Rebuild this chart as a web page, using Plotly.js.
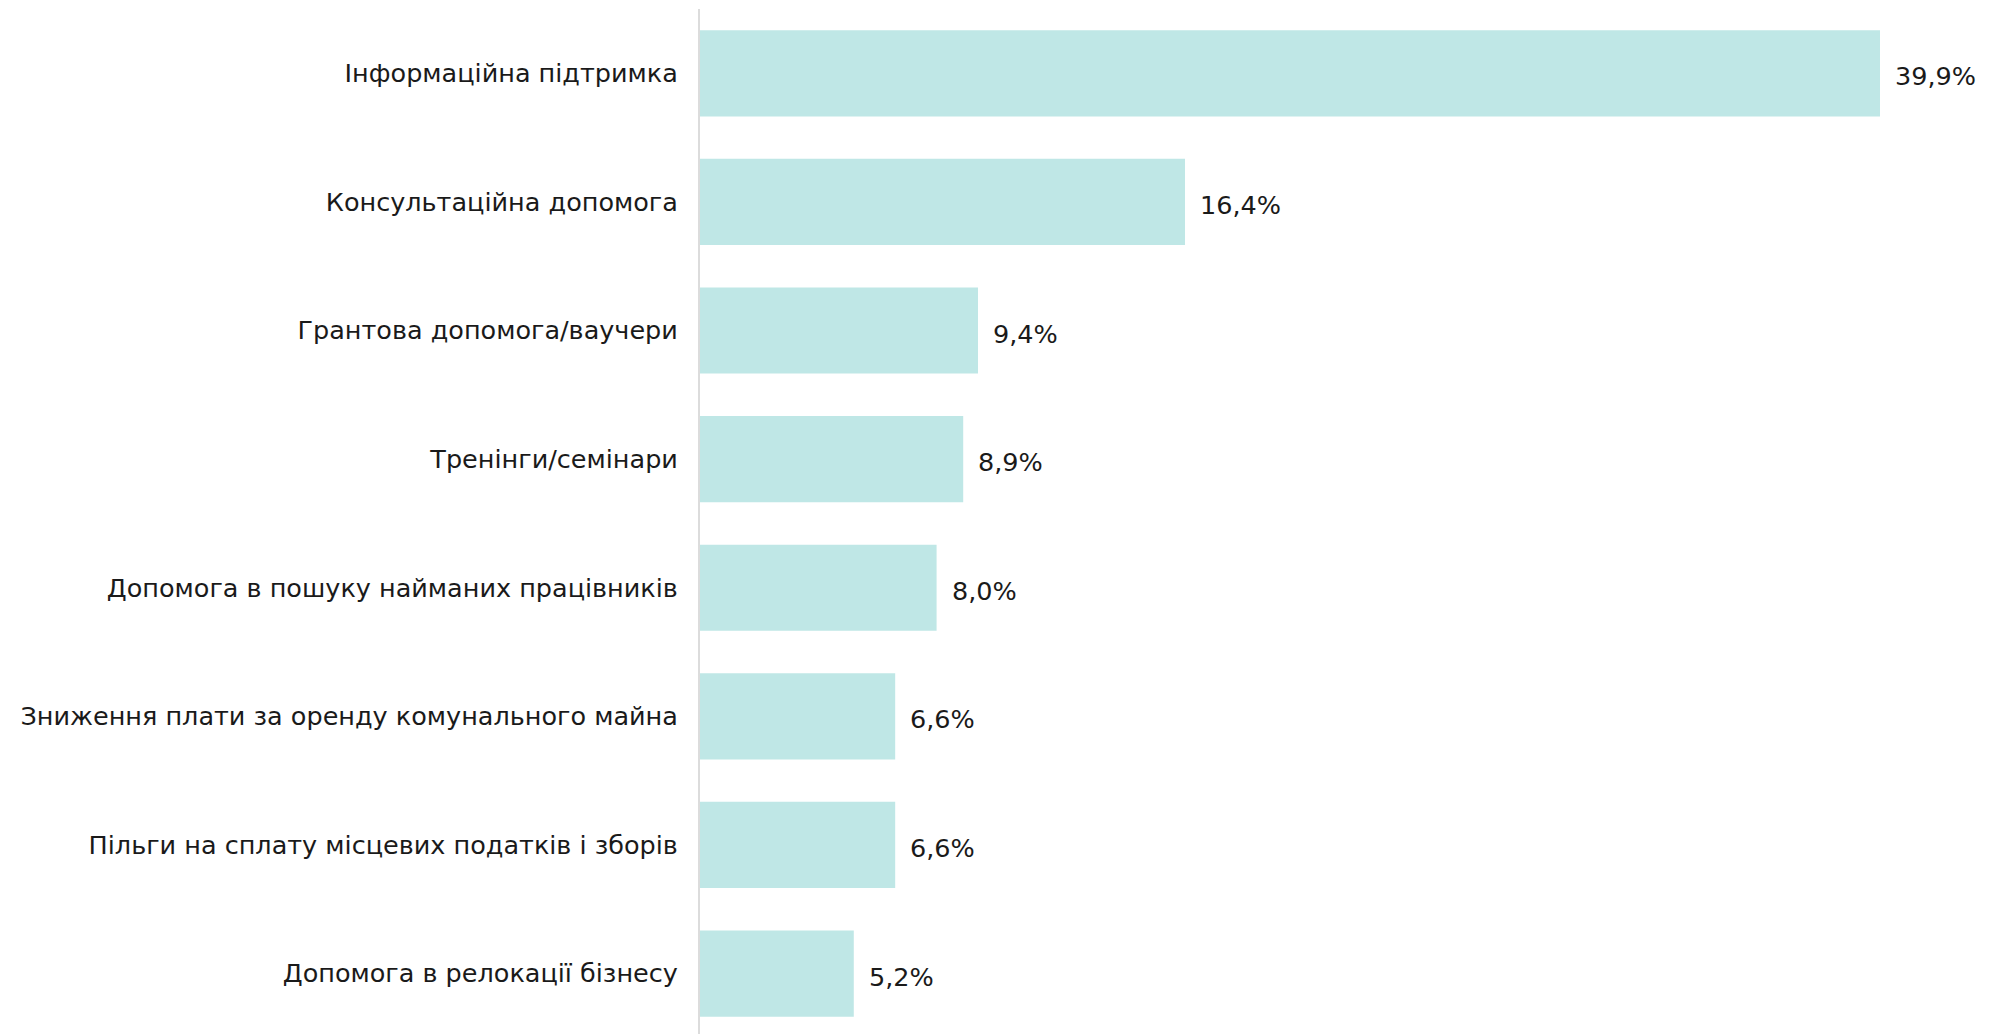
<!DOCTYPE html>
<html><head><meta charset="utf-8">
<script src="https://cdn.plot.ly/plotly-3.0.1.min.js"></script>
<style>html,body{margin:0;padding:0;background:#fff}#chart{width:1990px;height:1034px}</style>
</head><body><div id="chart"></div>
<script>
const categories = [
  "Інформаційна підтримка",
  "Консультаційна допомога",
  "Грантова допомога/ваучери",
  "Тренінги/семінари",
  "Допомога в пошуку найманих працівників",
  "Зниження плати за оренду комунального майна",
  "Пільги на сплату місцевих податків і зборів",
  "Допомога в релокації бізнесу"
];
const values = [39.9, 16.4, 9.4, 8.9, 8.0, 6.6, 6.6, 5.2];
const valueLabels = ["39,9%", "16,4%", "9,4%", "8,9%", "8,0%", "6,6%", "6,6%", "5,2%"];

const FONT = "'DejaVu Sans', sans-serif";
const trace = {
  type: "bar", orientation: "h",
  x: values, y: categories,
  marker: {color: "#bfe7e6"},
  hoverinfo: "skip"
};
const annotations = values.map((v, i) => ({
  x: v, y: categories[i], xref: "x", yref: "y",
  text: valueLabels[i], showarrow: false,
  xanchor: "left", xshift: 13, yshift: -3,
  font: {family: FONT, size: 25.5, color: "#1a1a1a"}
}));
const layout = {
  width: 1990, height: 1034,
  margin: {l: 700, r: 0, t: 9, b: 0, pad: 0},
  paper_bgcolor: "#fff", plot_bgcolor: "#fff",
  bargap: 0.33,
  showlegend: false,
  xaxis: {range: [0, 43.62], visible: false, fixedrange: true},
  yaxis: {
    type: "category", range: [7.47, -0.5],
    showline: true, linecolor: "#dcdcdc", linewidth: 2,
    showgrid: false, zeroline: false, ticks: "", ticklabelstandoff: 15,
    tickfont: {family: FONT, size: 25.5, color: "#1a1a1a"}
  },
  annotations: annotations
};
Plotly.newPlot("chart", [trace], layout, {displayModeBar: false, staticPlot: true});
</script></body></html>
